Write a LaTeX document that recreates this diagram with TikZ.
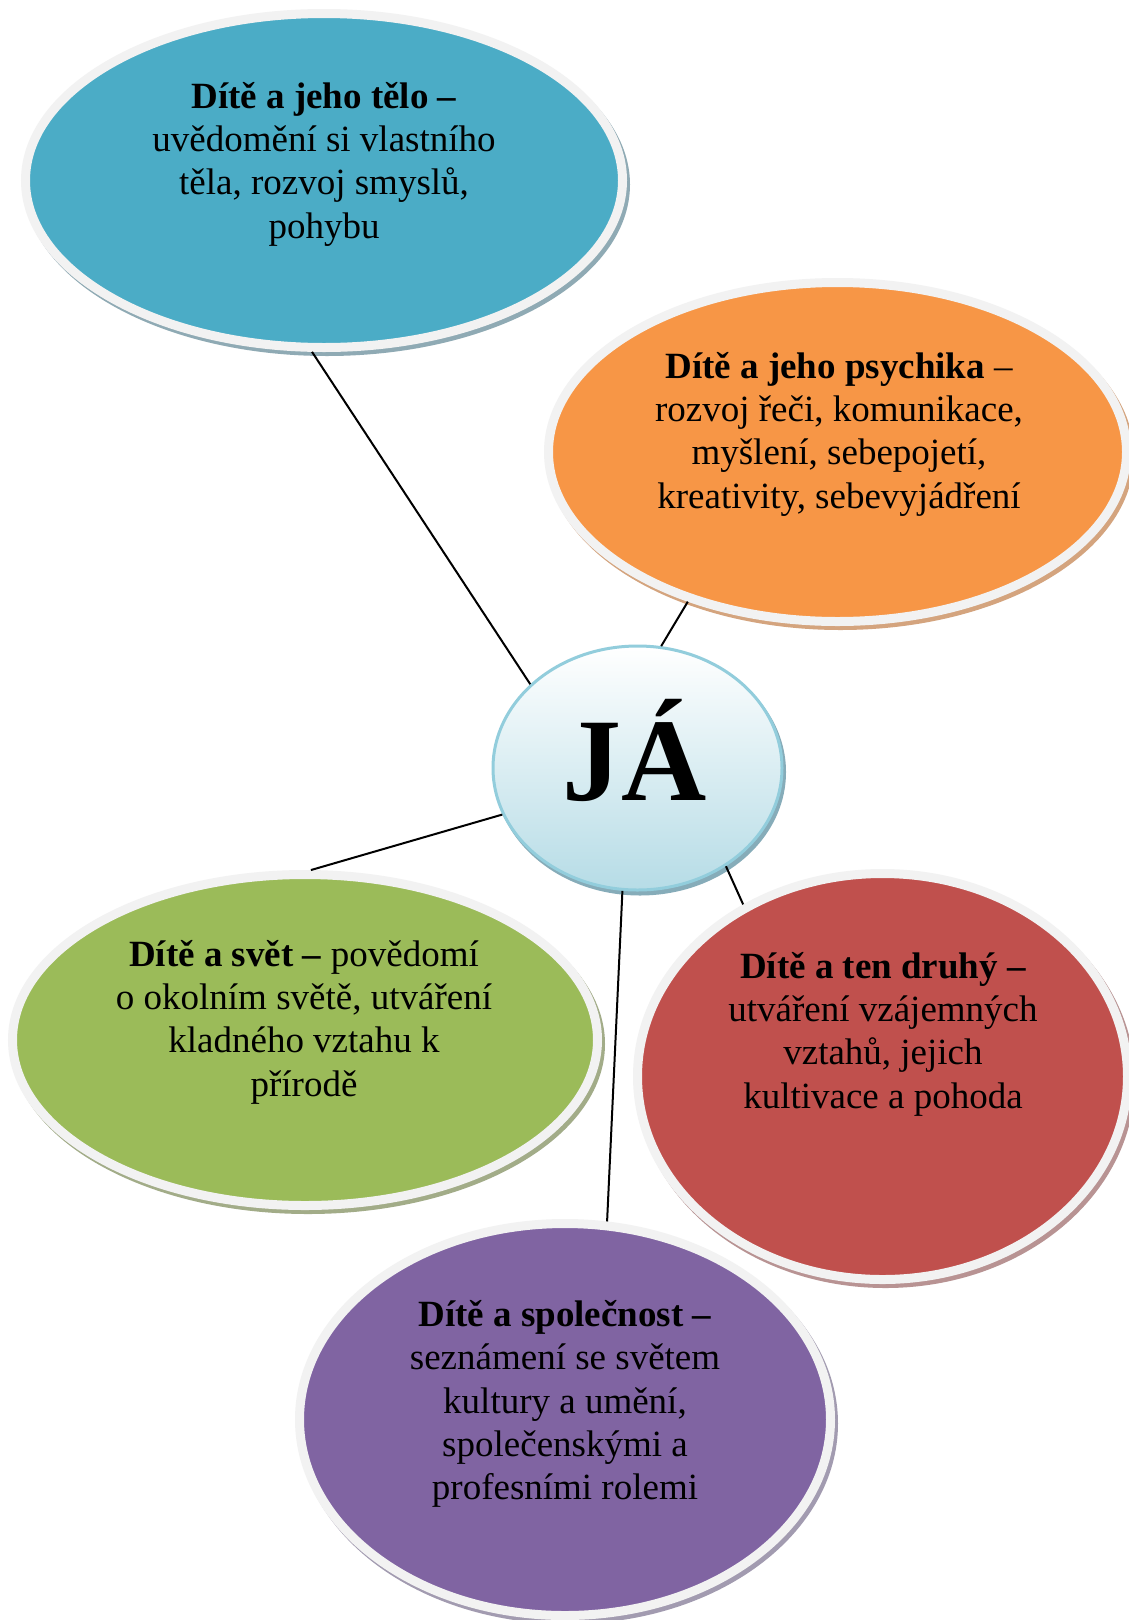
\documentclass[tikz,border=0pt]{standalone}
\usepackage{fontspec}
\setmainfont{Liberation Serif}
\usetikzlibrary{shapes.geometric}
\definecolor{cblue}{HTML}{4BACC6}
\definecolor{corange}{HTML}{F79646}
\definecolor{cgreen}{HTML}{9BBB59}
\definecolor{cred}{HTML}{C0504D}
\definecolor{cpurple}{HTML}{8064A2}
\definecolor{ringgray}{HTML}{F2F2F2}
\definecolor{sblue}{HTML}{8FAAB4}
\definecolor{sorange}{HTML}{D4A47E}
\definecolor{sgreen}{HTML}{A2AC88}
\definecolor{sred}{HTML}{B89393}
\definecolor{spurple}{HTML}{A29BB0}
\definecolor{jatop}{HTML}{FFFFFF}
\definecolor{jabot}{HTML}{B6DCE6}
\definecolor{jaborder}{HTML}{92CDDC}
\definecolor{jashadow}{HTML}{86ACB9}
\tikzset{
  bubble/.style={ellipse, draw=ringgray, line width=9pt, inner sep=0pt},
  btext/.style={align=center, font=\fontsize{37}{43.3}\selectfont, inner sep=0pt},
  conn/.style={draw=black, line width=2pt},
}
\begin{document}
\begin{tikzpicture}[x=1pt,y=-1pt]
\fill[white] (0,0) rectangle (1128,1620);
\useasboundingbox (0,0) rectangle (1128,1620);

% shadows
\fill[sblue] (327,184.5) ellipse [x radius=303pt, y radius=171.5pt];
\fill[sorange] (840.5,456) ellipse [x radius=293.5pt, y radius=174pt];
\fill[sgreen] (308,1044) ellipse [x radius=297pt, y radius=170pt];
\fill[sred] (885.5,1080.5) ellipse [x radius=249.5pt, y radius=207.5pt];
\fill[spurple] (568,1423.5) ellipse [x radius=270pt, y radius=200.5pt];
\fill[jashadow] (640,772) ellipse [x radius=146pt, y radius=123.5pt];

% bubbles
\node[bubble, fill=cblue, minimum width=597pt, minimum height=334pt] (blue) at (324,180.5) {};
\node[bubble, fill=corange, minimum width=578pt, minimum height=339pt] (orange) at (837.5,452) {};
\node[bubble, fill=cgreen, minimum width=585pt, minimum height=331pt] (green) at (305,1040) {};
\node[bubble, fill=cred, minimum width=490pt, minimum height=406pt] (red) at (882.5,1076.5) {};
\node[bubble, fill=cpurple, minimum width=531pt, minimum height=392pt] (purple) at (565,1419.5) {};
\node[ellipse, draw=jaborder, line width=3pt, top color=jatop, bottom color=jabot,
      minimum width=289pt, minimum height=244pt, inner sep=0pt] (ja) at (637.5,768) {};

% texts
\node[btext] (blueT) at (324,164) {\textbf{Dítě a jeho tělo –}\\uvědomění si vlastního\\těla, rozvoj smyslů,\\pohybu};
\node[btext] (orangeT) at (839,434) {\textbf{Dítě a jeho psychika} –\\rozvoj řeči, komunikace,\\myšlení, sebepojetí,\\kreativity, sebevyjádření};
\node[btext] (greenT) at (304,1022) {\textbf{Dítě a svět –} povědomí\\o okolním světě, utváření\\kladného vztahu k\\přírodě};
\node[btext] (redT) at (883,1034) {\textbf{Dítě a ten druhý –}\\utváření vzájemných\\vztahů, jejich\\kultivace a pohoda};
\node[btext] (purpleT) at (565,1404) {\textbf{Dítě a společnost –}\\seznámení se světem\\kultury a umění,\\společenskými a\\profesními rolemi};
\node[anchor=base, inner sep=0pt, font=\fontsize{118}{120}\selectfont\bfseries] (jaT) at (635,800) {JÁ};

% connectors
\draw[conn] (blue.-94) -- (ja.142.8);
\draw[conn] (orange.-135) -- (ja.79);
\draw[conn] (ja.-161.5) -- (green.88);
\draw[conn] (ja.-97) -- (purple.78);
\draw[conn] (ja.-48) -- (red.129);
\end{tikzpicture}
\end{document}
